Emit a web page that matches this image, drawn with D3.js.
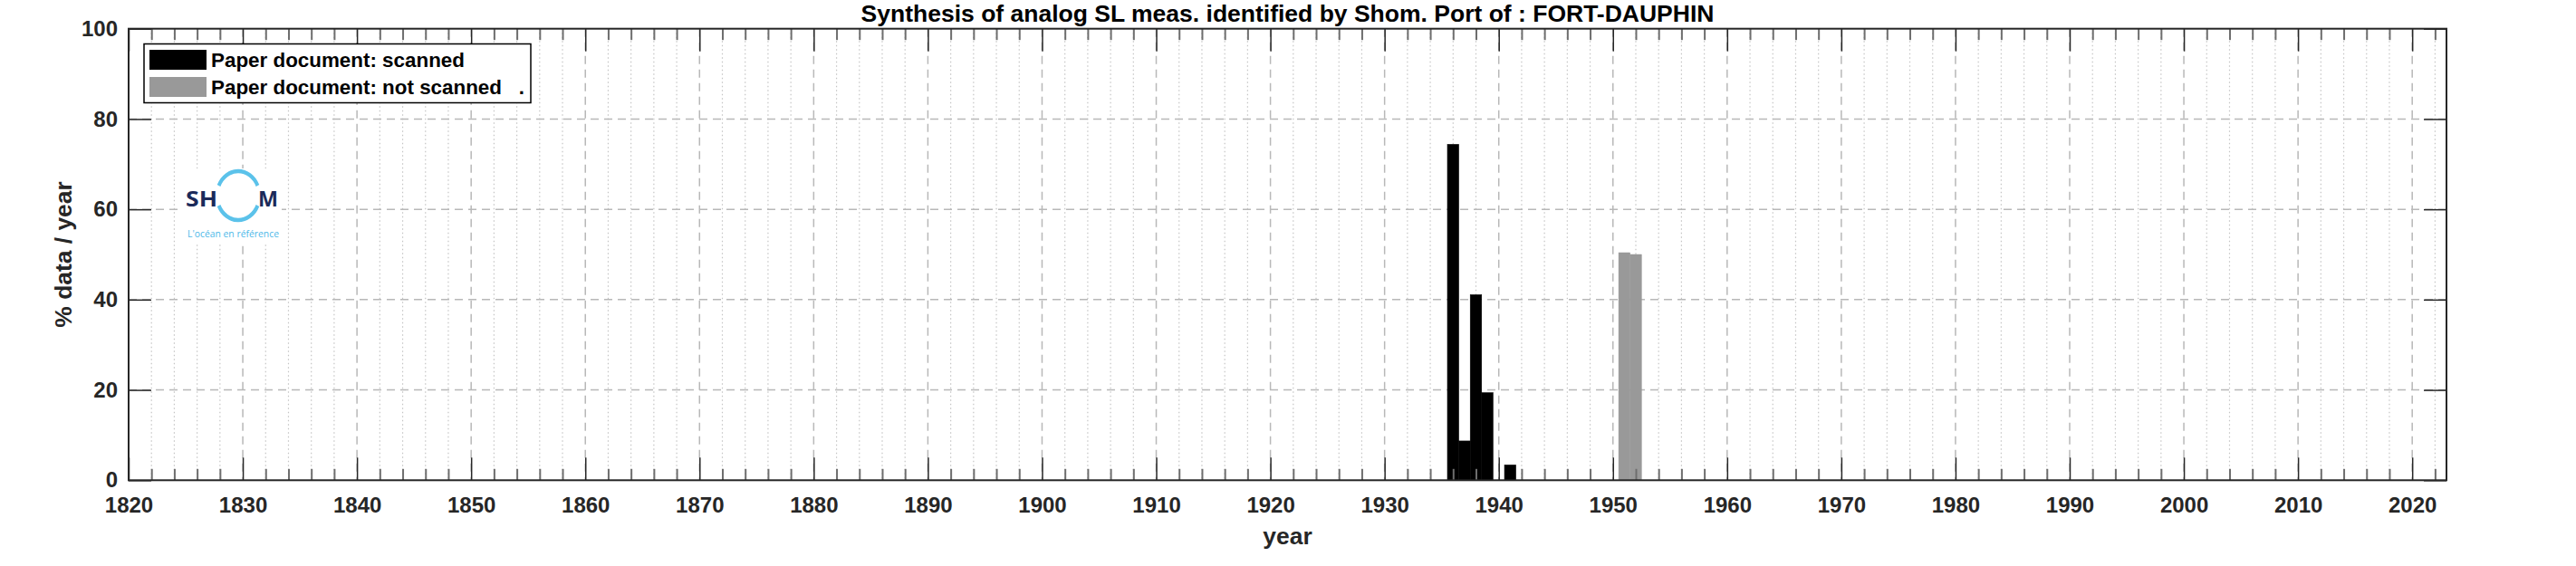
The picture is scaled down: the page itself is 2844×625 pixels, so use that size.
<!DOCTYPE html>
<html><head><meta charset="utf-8">
<script src="https://cdn.jsdelivr.net/npm/d3@7"></script>
<style>
body{margin:0;background:#fff}
svg{display:block}
text{font-family:"Liberation Sans",Arial,Helvetica,sans-serif;font-weight:bold}
</style>
</head><body>
<svg id="c" width="2844" height="625"></svg>
<script>
// ---- data ----
const scannedYears = [1936, 1937, 1938, 1939, 1941];
const scannedValues = [74.4, 8.7, 41.1, 19.4, 3.4];
const notScannedYears = [1951, 1952];
const notScannedValues = [50.4, 50.0];
const xTickLabels = [1820,1830,1840,1850,1860,1870,1880,1890,1900,1910,1920,1930,1940,1950,1960,1970,1980,1990,2000,2010,2020];
const yTickLabels = [0, 20, 40, 60, 80, 100];
const legendLabels = ["Paper document: scanned", "Paper document: not scanned   ."];
const titleText = "Synthesis of analog SL meas. identified by Shom. Port of : FORT-DAUPHIN";
const xLabel = "year";
const yLabel = "% data / year";

// ---- layout ----
const W = 2844, H = 625;
const L = 142, R = 2701, T = 31.7, B = 530.3;
const axisColor = "#262626";
const svg = d3.select("#c");
svg.append("rect").attr("width", W).attr("height", H).attr("fill", "#fff");

const x = d3.scaleLinear().domain([1820, 2023]).range([L, R]);
const y = d3.scaleLinear().domain([0, 100]).range([B, T]);
const minorTicks = d3.range(1822, 2023, 2).filter(d => d % 10 !== 0);

// ---- grid ----
const grid = svg.append("g");
grid.selectAll("line.minor").data(minorTicks).join("line")
  .attr("x1", d => x(d)).attr("x2", d => x(d)).attr("y1", T).attr("y2", B)
  .attr("stroke", "#c4c4c4").attr("stroke-width", 1.2).attr("stroke-dasharray", "1.5,3");
grid.selectAll("line.majx").data(xTickLabels.filter(d => d > 1820)).join("line")
  .attr("x1", d => x(d)).attr("x2", d => x(d)).attr("y1", T).attr("y2", B)
  .attr("stroke", "#b8b8b8").attr("stroke-width", 1.5).attr("stroke-dasharray", "9,6");
grid.selectAll("line.majy").data(yTickLabels.filter(d => d > 0 && d < 100)).join("line")
  .attr("x1", L).attr("x2", R).attr("y1", d => y(d)).attr("y2", d => y(d))
  .attr("stroke", "#b8b8b8").attr("stroke-width", 1.5).attr("stroke-dasharray", "9,6");

// ---- bars ----
const scanned = scannedYears.map((yr, i) => ({yr, v: scannedValues[i]}));
const notScanned = notScannedYears.map((yr, i) => ({yr, v: notScannedValues[i]}));
svg.append("g").selectAll("rect").data(scanned).join("rect")
  .attr("x", d => x(d.yr - 0.5)).attr("width", d => x(d.yr + 0.5) - x(d.yr - 0.5))
  .attr("y", d => y(d.v)).attr("height", d => y(0) - y(d.v))
  .attr("fill", "#000").attr("stroke", "#000").attr("stroke-width", 0.5);
svg.append("g").selectAll("rect").data(notScanned).join("rect")
  .attr("x", d => x(d.yr - 0.5)).attr("width", d => x(d.yr + 0.5) - x(d.yr - 0.5))
  .attr("y", d => y(d.v)).attr("height", d => y(0) - y(d.v))
  .attr("fill", "#999999").attr("stroke", "#999999").attr("stroke-width", 0.5);

// ---- logo ----
const logo = svg.append("g");
logo.append("rect").attr("x", 199).attr("y", 186).attr("width", 112).attr("height", 82).attr("fill", "#fff");
const ring = logo.append("g").attr("transform", "translate(263,216) scale(1,1.15)");
const arc = d3.arc().innerRadius(21.5).outerRadius(25.5);
ring.append("path").attr("d", arc({startAngle: -1.15, endAngle: 1.15})).attr("fill", "#5bc2ea");
ring.append("path").attr("d", arc({startAngle: Math.PI - 1.15, endAngle: Math.PI + 1.15})).attr("fill", "#5bc2ea");
logo.append("text").attr("x", 205).attr("y", 227.5).text("SH")
  .style("font-family", "'Open Sans',Lato,sans-serif").style("font-weight", "700")
  .attr("font-size", 24).attr("fill", "#1b2a5a").attr("textLength", 35).attr("lengthAdjust", "spacingAndGlyphs");
logo.append("text").attr("x", 285).attr("y", 227.5).text("M")
  .style("font-family", "'Open Sans',Lato,sans-serif").style("font-weight", "700")
  .attr("font-size", 24).attr("fill", "#1b2a5a").attr("textLength", 22).attr("lengthAdjust", "spacingAndGlyphs");
logo.append("text").attr("x", 207).attr("y", 262).text("L'océan en référence")
  .style("font-family", "'Open Sans',Lato,sans-serif").style("font-weight", "400")
  .attr("font-size", 10).attr("fill", "#4db8e8").attr("textLength", 101).attr("lengthAdjust", "spacingAndGlyphs");

// ---- axes ----
function styleAxis(g) {
  g.select(".domain").remove();
  g.selectAll(".tick line").attr("stroke", axisColor).attr("stroke-width", 1.5);
  g.selectAll(".tick text").attr("fill", axisColor).attr("font-size", 24)
    .style("font-family", "'Liberation Sans',Arial,sans-serif").style("font-weight", "bold");
}
svg.append("g").attr("transform", `translate(0,${B})`)
  .call(d3.axisBottom(x).tickValues(xTickLabels).tickSize(-25).tickPadding(19).tickFormat(d3.format("d")))
  .call(styleAxis);
svg.append("g").attr("transform", `translate(0,${T})`)
  .call(d3.axisTop(x).tickValues(xTickLabels).tickSize(-25).tickFormat(""))
  .call(styleAxis);
svg.append("g").attr("transform", `translate(0,${B})`)
  .call(d3.axisBottom(x).tickValues(minorTicks).tickSize(-12.5).tickFormat(""))
  .call(styleAxis).selectAll(".tick line").attr("stroke", "#6e6e6e").attr("stroke-width", 2);
svg.append("g").attr("transform", `translate(0,${T})`)
  .call(d3.axisTop(x).tickValues(minorTicks).tickSize(-12.5).tickFormat(""))
  .call(styleAxis).selectAll(".tick line").attr("stroke", "#6e6e6e").attr("stroke-width", 2);
svg.append("g").attr("transform", `translate(${L},0)`)
  .call(d3.axisLeft(y).tickValues(yTickLabels).tickSize(-25).tickPadding(12).tickFormat(d3.format("d")))
  .call(styleAxis);
svg.append("g").attr("transform", `translate(${R},0)`)
  .call(d3.axisRight(y).tickValues(yTickLabels).tickSize(-25).tickFormat(""))
  .call(styleAxis);
svg.append("rect").attr("x", L).attr("y", T).attr("width", R - L).attr("height", B - T)
  .attr("fill", "none").attr("stroke", axisColor).attr("stroke-width", 2);

// ---- legend ----
const lg = svg.append("g");
lg.append("rect").attr("x", 159).attr("y", 48.5).attr("width", 427).attr("height", 65)
  .attr("fill", "#fff").attr("stroke", "#000").attr("stroke-width", 1.5);
const legendColors = ["#000000", "#999999"];
legendLabels.forEach((lab, i) => {
  lg.append("rect").attr("x", 165).attr("y", 55 + i * 30).attr("width", 63).attr("height", 22)
    .attr("fill", legendColors[i]);
  lg.append("text").attr("x", 233).attr("y", 74 + i * 30).attr("font-size", 22.4)
    .attr("fill", "#000").style("white-space", "pre").text(lab);
});

// ---- titles ----
svg.append("text").attr("x", (L + R) / 2).attr("y", 24).attr("text-anchor", "middle")
  .attr("font-size", 26.5).attr("fill", "#000").text(titleText);
svg.append("text").attr("x", (L + R) / 2).attr("y", 601).attr("text-anchor", "middle")
  .attr("font-size", 26.4).attr("fill", axisColor).text(xLabel);
svg.append("text").attr("transform", `translate(79,${(T + B) / 2}) rotate(-90)`).attr("text-anchor", "middle")
  .attr("font-size", 26.4).attr("fill", axisColor).text(yLabel);
</script>
</body></html>
